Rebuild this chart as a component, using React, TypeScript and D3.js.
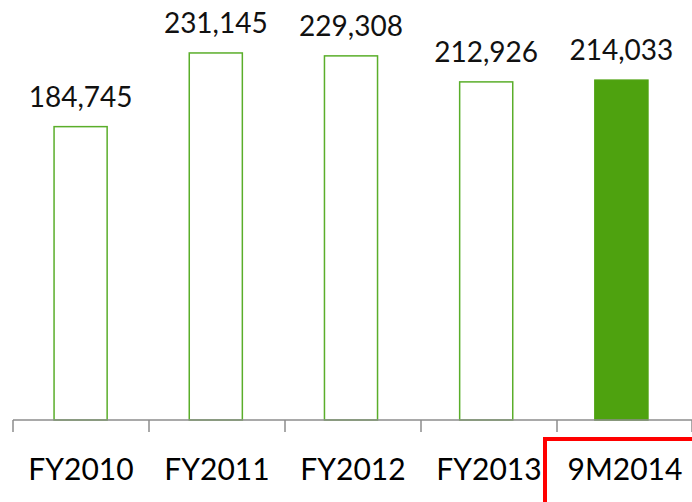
import * as d3 from "d3";

const categories = ["FY2010", "FY2011", "FY2012", "FY2013", "9M2014"];
const values = [184745, 231145, 229308, 212926, 214033];
const highlighted = ["9M2014"];

const width = 692;
const height = 502;
const axisY = 420;
const green = "#4ea20f";
const font = "Lato, 'Open Sans', sans-serif";

export default function App() {
  // bars
  const x = d3.scaleBand().domain(categories).range([13, 689]).paddingInner(0.6).paddingOuter(0.3);
  // axis ticks (category boundaries)
  const xAxis = d3.scaleBand().domain(categories).range([13, 693]);
  const y = d3.scaleLinear().domain([0, 264500]).range([axisY, 0]);
  const fmt = d3.format(",");

  const tickXs = categories.map((c) => xAxis(c) as number);
  tickXs.push(693 - 1);

  return (
    <svg
      width={width}
      height={height}
      style={{ position: "absolute", left: 0, top: 0, background: "#fff" }}
      fontFamily={font}
    >
      {categories.map((c, i) => {
        const isHi = highlighted.includes(c);
        const bx = x(c) as number;
        return (
          <g key={c}>
            <rect
              x={bx + 0.5}
              y={y(values[i])}
              width={x.bandwidth() - 1}
              height={axisY - y(values[i])}
              fill={isHi ? green : "#fff"}
              stroke={isHi ? green : "#5aae2a"}
              strokeWidth={1.5}
            />
            <text
              x={bx + x.bandwidth() / 2}
              y={y(values[i]) - 20}
              textAnchor="middle"
              fontSize={28}
              fill="#111"
            >
              {fmt(values[i])}
            </text>
            <text
              x={(xAxis(c) as number) + xAxis.bandwidth() / 2}
              y={480}
              textAnchor="middle"
              fontSize={30}
              fill="#000"
            >
              {c}
            </text>
          </g>
        );
      })}
      <line x1={13} x2={692} y1={axisY} y2={axisY} stroke="#8c8c8c" strokeWidth={1.5} />
      {tickXs.map((tx, i) => (
        <line key={i} x1={tx} x2={tx} y1={axisY} y2={axisY + 12} stroke="#8c8c8c" strokeWidth={1.5} />
      ))}
      <path d="M545,504 V439 H694" fill="none" stroke="#ff0000" strokeWidth={4} />
    </svg>
  );
}
